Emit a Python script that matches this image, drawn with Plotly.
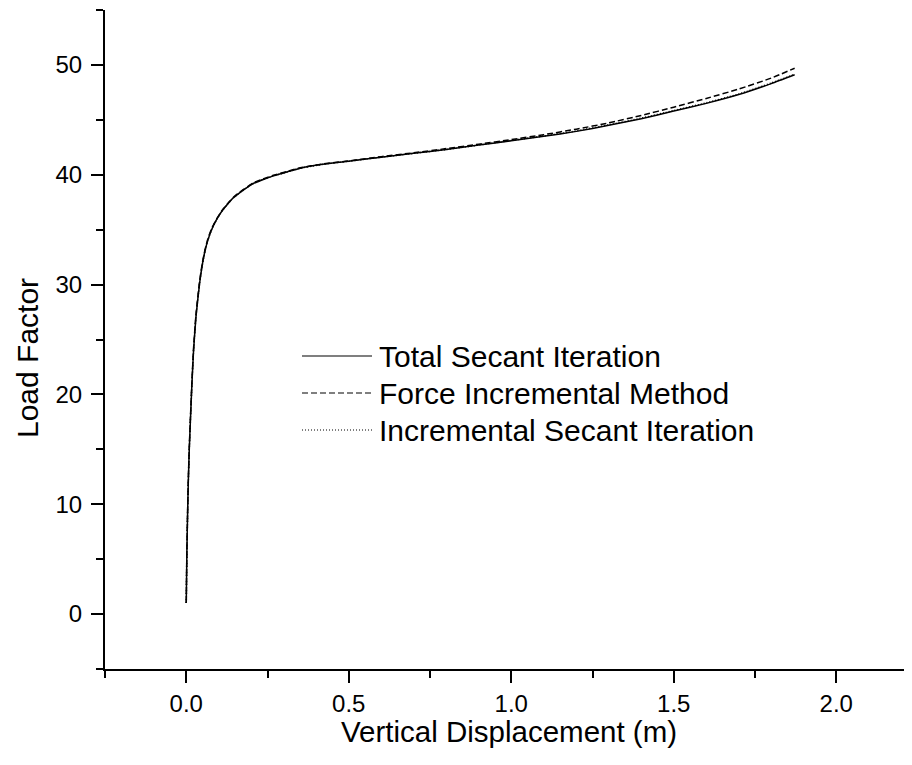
import plotly.graph_objects as go

# ---------------- data ----------------
series_names = ["Total Secant Iteration", "Force Incremental Method", "Incremental Secant Iteration"]

total_x = [0.0, 0.002, 0.004, 0.0062, 0.0092, 0.0133, 0.0175, 0.0225, 0.030, 0.041, 0.050,
           0.058, 0.066, 0.078, 0.094, 0.11, 0.125, 0.145, 0.166, 0.19, 0.206, 0.235, 0.268, 0.31,
           0.351, 0.42, 0.505, 0.6, 0.7, 0.8, 0.9, 1.0, 1.1, 1.2, 1.3, 1.4, 1.5, 1.6,
           1.7, 1.8, 1.872]
total_y = [1.0, 5.8, 8.9, 11.9, 14.9, 18.0, 21.0, 24.0, 27.1, 30.1, 31.9,
           33.1, 34.0, 35.0, 35.95, 36.7, 37.25, 37.9, 38.4, 38.9, 39.2, 39.55, 39.9, 40.25,
           40.6, 40.95, 41.25, 41.6, 41.95, 42.3, 42.7, 43.1, 43.5, 43.95, 44.5, 45.1, 45.8, 46.5,
           47.3, 48.3, 49.1]

force_x = [0.0, 0.002, 0.004, 0.0062, 0.0092, 0.0133, 0.0175, 0.0225, 0.030, 0.041, 0.050,
           0.058, 0.066, 0.078, 0.094, 0.11, 0.125, 0.145, 0.166, 0.19, 0.206, 0.235, 0.268, 0.31,
           0.351, 0.42, 0.505, 0.6, 0.7, 0.8, 0.9, 1.0, 1.1, 1.2, 1.3, 1.4, 1.5, 1.6,
           1.7, 1.8, 1.872]
force_y = [1.0, 5.9, 9.1, 12.1, 15.1, 18.2, 21.2, 24.2, 27.3, 30.3, 32.05,
           33.2, 34.1, 35.1, 36.0, 36.75, 37.3, 37.95, 38.45, 38.95, 39.25, 39.6, 39.95, 40.3,
           40.63, 40.98, 41.28, 41.65, 42.0, 42.38, 42.78, 43.2, 43.65, 44.15, 44.72, 45.4, 46.15, 46.95,
           47.8, 48.8, 49.7]

incr_x = [0.0, 0.002, 0.004, 0.0062, 0.0092, 0.0133, 0.0175, 0.0225, 0.030, 0.041, 0.050,
          0.058, 0.066, 0.078, 0.094, 0.11, 0.125, 0.145, 0.166, 0.19, 0.206, 0.235, 0.268, 0.31,
          0.351, 0.42, 0.505, 0.6, 0.7, 0.8, 0.9, 1.0, 1.1, 1.2, 1.3, 1.4, 1.5, 1.6,
          1.7, 1.8, 1.872]
incr_y = [1.0, 5.8, 8.9, 11.9, 14.9, 18.0, 21.0, 24.0, 27.1, 30.1, 31.9,
          33.1, 34.0, 35.0, 35.95, 36.7, 37.25, 37.9, 38.4, 38.9, 39.2, 39.55, 39.9, 40.25,
          40.6, 40.95, 41.25, 41.6, 41.95, 42.3, 42.7, 43.12, 43.53, 43.99, 44.55, 45.15, 45.85, 46.55,
          47.35, 48.35, 49.15]

x_tickvals = [0.0, 0.5, 1.0, 1.5, 2.0]
x_ticktext = ["0.0", "0.5", "1.0", "1.5", "2.0"]
y_tickvals = [0, 10, 20, 30, 40, 50]
y_ticktext = ["0", "10", "20", "30", "40", "50"]

x_title = "Vertical Displacement (m)"
y_title = "Load Factor"

# ---------------- styles ----------------
# the page body adds an 8px offset, so the figure is 8px smaller than the window
OFF = 8
W, H = 912 - OFF, 765 - OFF
L, R, T, B = 105 - OFF, 0, 10 - OFF, 765 - 669
PW, PH = W - L - R, H - T - B
FONT = "Arial, Liberation Sans, sans-serif"
dashes = ["solid", "6px,3px", "1px,2px"]


def px_to_paper_x(px):
    return (px - OFF - L) / PW


def px_to_paper_y(py):
    return 1 - (py - OFF - T) / PH


fig = go.Figure()
for name, xs, ys, d in [(series_names[0], total_x, total_y, dashes[0]),
                         (series_names[1], force_x, force_y, dashes[1]),
                         (series_names[2], incr_x, incr_y, dashes[2])]:
    fig.add_trace(go.Scatter(x=xs, y=ys, mode="lines", name=name,
                             line=dict(color="black", width=1.5, dash=d, shape="spline", smoothing=0.5),
                             showlegend=False))

# manual legend (long line samples like the reference)
legend_rows = [356, 393, 430]
shapes = []
annotations = []
for name, d, py in zip(series_names, dashes, legend_rows):
    shapes.append(dict(type="line", xref="paper", yref="paper",
                       x0=px_to_paper_x(302), x1=px_to_paper_x(372),
                       y0=px_to_paper_y(py), y1=px_to_paper_y(py),
                       line=dict(color="black", width=1.2, dash=d)))
    annotations.append(dict(xref="paper", yref="paper", x=px_to_paper_x(377), y=px_to_paper_y(py),
                            xanchor="left", yanchor="middle", text=name, showarrow=False,
                            font=dict(family=FONT, size=30, color="black")))

annotations.append(dict(xref="paper", yref="paper", x=px_to_paper_x(508.5), y=px_to_paper_y(732),
                        xanchor="center", yanchor="middle", text=x_title, showarrow=False,
                        font=dict(family=FONT, size=29.5, color="black")))
annotations.append(dict(xref="paper", yref="paper", x=px_to_paper_x(27), y=px_to_paper_y(358),
                        xanchor="center", yanchor="middle", text=y_title, showarrow=False,
                        textangle=-90, font=dict(family=FONT, size=30, color="black")))

fig.update_layout(
    width=W, height=H,
    margin=dict(l=L, r=R, t=T, b=B),
    paper_bgcolor="white", plot_bgcolor="white",
    font=dict(family=FONT, size=24, color="black"),
    shapes=shapes, annotations=annotations,
    showlegend=False,
)
fig.update_xaxes(
    range=[-0.25, -0.25 + PW / 325.0],
    tickvals=x_tickvals, ticktext=x_ticktext,
    showgrid=False, zeroline=False,
    showline=True, linecolor="black", linewidth=2,
    ticks="outside", ticklen=12, tickwidth=2, tickcolor="black",
    tickfont=dict(family=FONT, size=24, color="black"),
    ticklabelstandoff=0,
    minor=dict(tickvals=[-0.25, 0.25, 0.75, 1.25, 1.75, 2.25], ticks="outside",
               ticklen=7, tickwidth=2, tickcolor="black", showgrid=False),
)
fig.update_yaxes(
    range=[-5, 55],
    tickvals=y_tickvals, ticktext=y_ticktext,
    showgrid=False, zeroline=False,
    showline=True, linecolor="black", linewidth=2,
    ticks="outside", ticklen=12, tickwidth=2, tickcolor="black",
    tickfont=dict(family=FONT, size=24, color="black"),
    ticklabelstandoff=4,
    minor=dict(tickvals=[-5, 5, 15, 25, 35, 45, 55], ticks="outside",
               ticklen=7, tickwidth=2, tickcolor="black", showgrid=False),
)

fig.write_html("out.html")
